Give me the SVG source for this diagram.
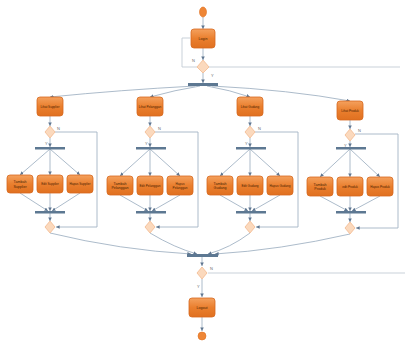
<svg xmlns="http://www.w3.org/2000/svg" width="405" height="343" viewBox="0 0 405 343">
<defs>
<linearGradient id="og" x1="0" y1="0" x2="0" y2="1">
<stop offset="0" stop-color="#f4a15e"/>
<stop offset="0.5" stop-color="#ea7f2e"/>
<stop offset="1" stop-color="#e07020"/>
</linearGradient>
<marker id="ah" viewBox="0 0 6 6" refX="6" refY="3" markerWidth="4" markerHeight="4" orient="auto">
<path d="M0,0 L6,3 L0,6 z" fill="#5f7690"/>
</marker>
</defs>
<style>
.box{fill:url(#og);stroke:#d7681e;stroke-width:0.8}
.dia{fill:#fbd9bd;stroke:#f2b98e;stroke-width:0.8}
.bar{fill:#5d7892}
.ln{fill:none;stroke:#a3b3c4;stroke-width:0.9;marker-end:url(#ah)}
.lp{fill:none;stroke:#c3ccd5;stroke-width:0.9}
.t{font-family:"Liberation Sans",Arial,sans-serif;font-size:3.6px;fill:#4a2305;text-anchor:middle}
.s{font-size:3.1px}
.g{font-family:"Liberation Sans",Arial,sans-serif;font-size:4px;fill:#6a6a6a}
.c{fill:#ee8636;stroke:#e07020;stroke-width:0.6}
</style>
<g id="connectors">
<path class="ln" d="M203,17 L203,29"/>
<path class="ln" d="M203,48 L203,60"/>
<path class="lp" d="M197,67 L182,67 L182,38 L190,38"/>
<path class="lp" d="M209,67 L400,67"/>
<path class="ln" d="M203,73 L203,83"/>
<path class="ln" d="M195,86 Q120,90 50,97"/>
<path class="ln" d="M200,86 Q175,90 150,97"/>
<path class="ln" d="M207,86 Q230,90 250,97"/>
<path class="ln" d="M212,86 Q290,90 350,101"/>
<path class="ln" d="M50,116 L50,126"/>
<path class="ln" d="M50,138 L50,147"/>
<path class="ln" d="M50,149 L20,175"/>
<path class="ln" d="M50,149 L50,175"/>
<path class="ln" d="M50,149 L80,175"/>
<path class="ln" d="M20,193 L48,211"/>
<path class="ln" d="M50,193 L50,211"/>
<path class="ln" d="M80,193 L52,211"/>
<path class="ln" d="M50,213 L50,221"/>
<path class="ln" d="M55,132 L97,132 L97,227 L56,227"/>
<path class="ln" d="M150,116 L150,126"/>
<path class="ln" d="M150,138 L150,147"/>
<path class="ln" d="M150,149 L120,176"/>
<path class="ln" d="M150,149 L150,176"/>
<path class="ln" d="M150,149 L180,176"/>
<path class="ln" d="M120,195 L148,211"/>
<path class="ln" d="M150,195 L150,211"/>
<path class="ln" d="M180,195 L152,211"/>
<path class="ln" d="M150,213 L150,221"/>
<path class="ln" d="M155,132 L198,132 L198,227 L156,227"/>
<path class="ln" d="M250,116 L250,126"/>
<path class="ln" d="M250,138 L250,147"/>
<path class="ln" d="M250,149 L220,176"/>
<path class="ln" d="M250,149 L250,176"/>
<path class="ln" d="M250,149 L280,176"/>
<path class="ln" d="M220,195 L248,211"/>
<path class="ln" d="M250,195 L250,211"/>
<path class="ln" d="M280,195 L252,211"/>
<path class="ln" d="M250,213 L250,221"/>
<path class="ln" d="M255,132 L298,132 L298,227 L256,227"/>
<path class="ln" d="M350,120 L350,129"/>
<path class="ln" d="M350,141 L350,147"/>
<path class="ln" d="M350,149 L320,177"/>
<path class="ln" d="M350,149 L350,177"/>
<path class="ln" d="M350,149 L380,177"/>
<path class="ln" d="M320,196 L348,211"/>
<path class="ln" d="M350,196 L350,211"/>
<path class="ln" d="M380,196 L352,211"/>
<path class="ln" d="M350,213 L350,222"/>
<path class="ln" d="M355,134 L398,134 L398,228 L356,228"/>
<path class="ln" d="M50,233 Q120,250 191,254"/>
<path class="ln" d="M150,233 Q175,248 197,254"/>
<path class="ln" d="M250,233 Q230,248 208,254"/>
<path class="ln" d="M350,234 Q280,250 215,254"/>
<path class="ln" d="M202,257 L202,266"/>
<path class="lp" d="M208,273 L405,273"/>
<path class="ln" d="M202,279 L202,297"/>
<path class="ln" d="M202,317 L202,331"/>
</g>
<g id="start"><ellipse class="c" cx="203" cy="12" rx="3.5" ry="5"/></g>
<g id="login"><rect class="box" x="191" y="29" width="24" height="19" rx="3"/><text class="t" x="203" y="40">Login</text></g>
<g id="d0"><path class="dia" d="M203,60 L209,67 L203,73 L197,67 Z"/><text class="g" x="192" y="62">N</text><text class="g" x="211" y="77">Y</text></g>
<g id="fork0"><rect class="bar" x="188" y="83" width="30" height="3"/></g>

<g id="lihat-supplier"><rect class="box" x="37" y="97" width="26" height="19" rx="3"/><text class="t s" x="50" y="108">Lihat Supplier</text></g>
<g id="d1"><path class="dia" d="M50,126 L55,132 L50,138 L45,132 Z"/><text class="g" x="57" y="130">N</text><text class="g" x="45" y="145">Y</text></g>
<g id="fork1"><rect class="bar" x="35" y="147" width="30" height="2.5"/></g>
<g id="tambah-supplier"><rect class="box" x="7" y="175" width="26" height="18" rx="3"/><text class="t" x="20" y="183">Tambah</text><text class="t" x="20" y="187.5">Supplier</text></g>
<g id="edit-supplier"><rect class="box" x="37" y="175" width="26" height="18" rx="3"/><text class="t s" x="50" y="185.2">Edit Supplier</text></g>
<g id="hapus-supplier"><rect class="box" x="67" y="175" width="26" height="18" rx="3"/><text class="t s" x="80" y="185.2">Hapus Supplier</text></g>
<g id="join1"><rect class="bar" x="35" y="211" width="30" height="2.5"/></g>
<g id="m1"><path class="dia" d="M50,221 L55,227 L50,233 L45,227 Z"/></g>

<g id="lihat-pelanggan"><rect class="box" x="137" y="97" width="26" height="19" rx="3"/><text class="t s" x="150" y="108">Lihat Pelanggan</text></g>
<g id="d2"><path class="dia" d="M150,126 L155,132 L150,138 L145,132 Z"/><text class="g" x="158" y="130">N</text><text class="g" x="145" y="145">Y</text></g>
<g id="fork2"><rect class="bar" x="136" y="147" width="30" height="2.5"/></g>
<g id="tambah-pelanggan"><rect class="box" x="107" y="176" width="26" height="19" rx="3"/><text class="t" x="120" y="184.5">Tambah</text><text class="t" x="120" y="189">Pelanggan</text></g>
<g id="edit-pelanggan"><rect class="box" x="137" y="176" width="26" height="19" rx="3"/><text class="t s" x="150" y="186.8">Edit Pelanggan</text></g>
<g id="hapus-pelanggan"><rect class="box" x="167" y="176" width="26" height="19" rx="3"/><text class="t s" x="180" y="184.5">Hapus</text><text class="t s" x="180" y="189">Pelanggan</text></g>
<g id="join2"><rect class="bar" x="136" y="211" width="30" height="2.5"/></g>
<g id="m2"><path class="dia" d="M150,221 L155,227 L150,233 L145,227 Z"/></g>

<g id="lihat-gudang"><rect class="box" x="237" y="97" width="26" height="19" rx="3"/><text class="t s" x="250" y="108">Lihat Gudang</text></g>
<g id="d3"><path class="dia" d="M250,126 L255,132 L250,138 L245,132 Z"/><text class="g" x="258" y="130">N</text><text class="g" x="245" y="145">Y</text></g>
<g id="fork3"><rect class="bar" x="236" y="147" width="30" height="2.5"/></g>
<g id="tambah-gudang"><rect class="box" x="207" y="176" width="26" height="19" rx="3"/><text class="t" x="220" y="184.5">Tambah</text><text class="t" x="220" y="189">Gudang</text></g>
<g id="edit-gudang"><rect class="box" x="237" y="176" width="26" height="19" rx="3"/><text class="t s" x="250" y="186.8">Edit Gudang</text></g>
<g id="hapus-gudang"><rect class="box" x="267" y="176" width="26" height="19" rx="3"/><text class="t s" x="280" y="186.8">Hapus Gudang</text></g>
<g id="join3"><rect class="bar" x="236" y="211" width="30" height="2.5"/></g>
<g id="m3"><path class="dia" d="M250,221 L255,227 L250,233 L245,227 Z"/></g>

<g id="lihat-produk"><rect class="box" x="337" y="101" width="26" height="19" rx="3"/><text class="t s" x="350" y="112">Lihat Produk</text></g>
<g id="d4"><path class="dia" d="M350,129 L355,135 L350,141 L345,135 Z"/><text class="g" x="358" y="132">N</text><text class="g" x="344" y="147">Y</text></g>
<g id="fork4"><rect class="bar" x="336" y="147" width="30" height="2.5"/></g>
<g id="tambah-produk"><rect class="box" x="307" y="177" width="26" height="19" rx="3"/><text class="t" x="320" y="185.5">Tambah</text><text class="t" x="320" y="190">Produk</text></g>
<g id="edit-produk"><rect class="box" x="337" y="177" width="26" height="19" rx="3"/><text class="t s" x="350" y="187.8">edit Produk</text></g>
<g id="hapus-produk"><rect class="box" x="367" y="177" width="26" height="19" rx="3"/><text class="t s" x="380" y="187.8">Hapus Produk</text></g>
<g id="join4"><rect class="bar" x="336" y="211" width="30" height="2.5"/></g>
<g id="m4"><path class="dia" d="M350,222 L355,228 L350,234 L345,228 Z"/></g>

<g id="fork5"><rect class="bar" x="187" y="254" width="31" height="3"/></g>
<g id="d5"><path class="dia" d="M202,267 L207,273 L202,279 L197,273 Z"/><text class="g" x="210" y="270">N</text><text class="g" x="197" y="288">Y</text></g>
<g id="logout"><rect class="box" x="189" y="298" width="26" height="19" rx="3"/><text class="t" x="202" y="309">Logout</text></g>
<g id="end"><circle class="c" cx="202" cy="336" r="4"/></g>
</svg>
